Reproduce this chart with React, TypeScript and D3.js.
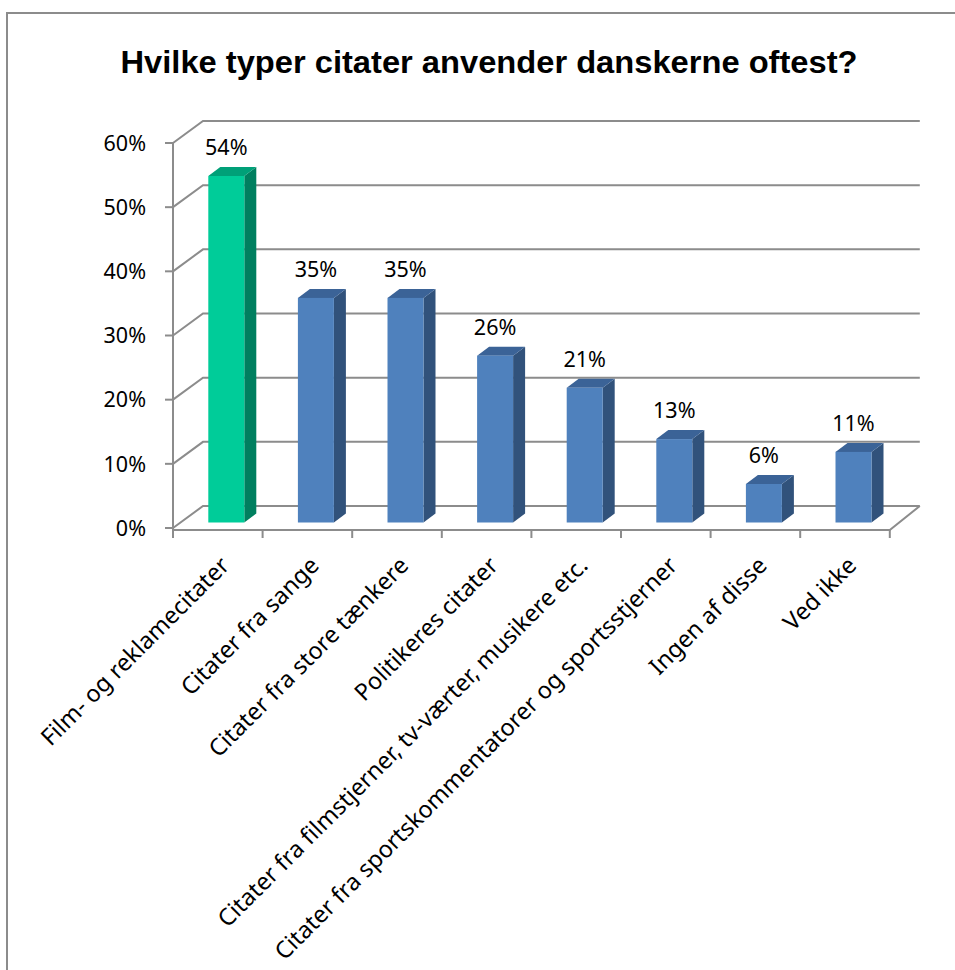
import * as d3 from "d3";

const categories = [
  "Film- og reklamecitater",
  "Citater fra sange",
  "Citater fra store tænkere",
  "Politikeres citater",
  "Citater fra filmstjerner, tv-værter, musikere etc.",
  "Citater fra sportskommentatorer og sportsstjerner",
  "Ingen af disse",
  "Ved ikke",
];
const values = [0.54, 0.35, 0.35, 0.26, 0.21, 0.13, 0.06, 0.11];
const yTicks = [0, 0.1, 0.2, 0.3, 0.4, 0.5, 0.6];
const title = "Hvilke typer citater anvender danskerne oftest?";

const W = 955;
const H = 970;
const FONT = "'Noto Sans', sans-serif";

// 3d look: back wall offset and bar depth
const DX = 30;
const DY = -22;
const BAR_DX = 12;
const BAR_DY = -9;
const BAR_W = 36;

export default function App() {
  const x = d3
    .scaleBand<string>()
    .domain(categories)
    .range([173, 173 + 8 * 89.6]);
  const y = d3.scaleLinear().domain([0, 0.6]).range([528, 143]);
  const yBar = (v: number) => y(v) - 5.5;
  const floorY = 530;
  const x0 = x.range()[0];
  const x1 = x.range()[1];
  const pct = d3.format(".0%");
  const grid = "#8c8c8c";

  return (
    <svg
      width={W}
      height={H}
      viewBox={`0 0 ${W} ${H}`}
      style={{ position: "absolute", left: 0, top: 0, background: "#fff" }}
    >
      <rect x={7} y={13} width={W + 20} height={H + 20} fill="#fff" stroke={grid} strokeWidth={2} />
      <text
        x={489}
        y={73}
        textAnchor="middle"
        fontFamily="'Liberation Sans', Arial, sans-serif"
        fontWeight="bold"
        fontSize={31}
        textLength={737}
        lengthAdjust="spacingAndGlyphs"
      >
        {title}
      </text>

      {/* gridlines on side + back wall */}
      {yTicks.map((t) => (
        <path
          key={t}
          d={`M${x0},${y(t)}L${x0 + DX},${y(t) + DY}L${x1 + DX},${y(t) + DY}`}
          fill="none"
          stroke={grid}
          strokeWidth={2}
        />
      ))}
      {/* floor */}
      <path
        d={`M${x0},${floorY}L${x1},${floorY}L${x1 + DX},${y(0) + DY}`}
        fill="none"
        stroke={grid}
        strokeWidth={2}
      />
      <line x1={x0} x2={x0} y1={y(0.6)} y2={floorY + 7} stroke={grid} strokeWidth={2} />
      {yTicks.map((t) => (
        <g key={"t" + t}>
          <line x1={x0 - 8} x2={x0} y1={y(t)} y2={y(t)} stroke={grid} strokeWidth={2} />
          <text
            x={146}
            y={y(t)}
            dy="0.36em"
            textAnchor="end"
            fontFamily={FONT}
            fontSize={21.5}
            fill="#000"
          >
            {pct(t)}
          </text>
        </g>
      ))}
      {d3.range(categories.length + 1).map((i) => (
        <line
          key={"c" + i}
          x1={x0 + i * x.step()}
          x2={x0 + i * x.step()}
          y1={floorY}
          y2={floorY + 8}
          stroke={grid}
          strokeWidth={2}
        />
      ))}

      {/* bars */}
      {categories.map((c, i) => {
        const v = values[i];
        const bx = (x(c) as number) + 35.3;
        const top = yBar(v);
        const base = yBar(0);
        const green = i === 0;
        const front = green ? "#00cc99" : "#4f81bd";
        const side = green ? "#007f5f" : "#31527b";
        const cap = green ? "#00a078" : "#3b6397";
        return (
          <g key={c}>
            <path
              d={`M${bx + BAR_W},${base}L${bx + BAR_W + BAR_DX},${base + BAR_DY}L${bx + BAR_W + BAR_DX},${top + BAR_DY}L${bx + BAR_W},${top}Z`}
              fill={side}
            />
            <path
              d={`M${bx},${top}L${bx + BAR_DX},${top + BAR_DY}L${bx + BAR_W + BAR_DX},${top + BAR_DY}L${bx + BAR_W},${top}Z`}
              fill={cap}
            />
            <rect x={bx} y={top} width={BAR_W} height={base - top} fill={front} />
            <text
              x={bx + BAR_W / 2}
              y={top - 21}
              textAnchor="middle"
              fontFamily={FONT}
              fontSize={21.5}
              fill="#000"
            >
              {pct(v)}
            </text>
          </g>
        );
      })}

      {/* category labels */}
      {categories.map((c) => {
        const cx = (x(c) as number) + x.bandwidth() / 2;
        return (
          <text
            key={"l" + c}
            transform={`translate(${cx + 1},${555}) rotate(-45)`}
            dy="0.72em"
            textAnchor="end"
            fontFamily={FONT}
            fontSize={23.5}
            fill="#000"
          >
            {c}
          </text>
        );
      })}
    </svg>
  );
}
